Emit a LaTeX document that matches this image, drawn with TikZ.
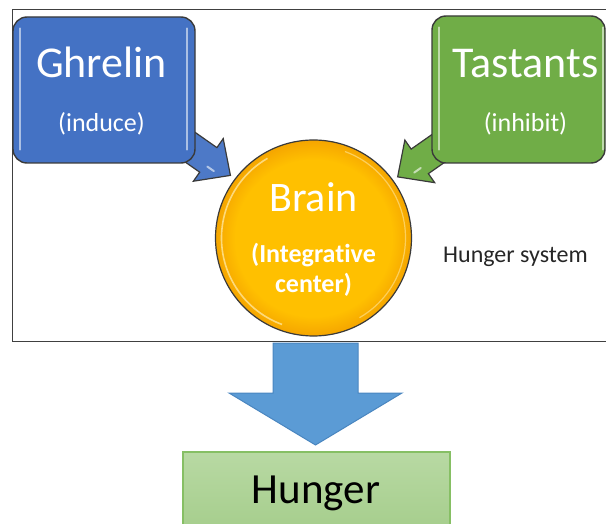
\documentclass[tikz,border=0pt]{standalone}
\usepackage{fontspec}
\setmainfont{Carlito}[Ligatures=NoCommon]
\usetikzlibrary{calc}
\definecolor{boxblue}{HTML}{4472C4}
\definecolor{boxgreen}{HTML}{70AD47}
\definecolor{brainyellow}{HTML}{FFC000}
\definecolor{brainedge}{HTML}{F5A500}
\definecolor{arrowblue}{HTML}{5B9BD5}
\definecolor{arrowblueedge}{HTML}{4A86C0}
\definecolor{hungtop}{HTML}{B8D9A3}
\definecolor{hungbot}{HTML}{A3CC89}
\definecolor{hungedge}{HTML}{86BF64}
\definecolor{darkline}{HTML}{3A3A3A}
\definecolor{framegray}{HTML}{404040}
\pgfdeclareradialshading{brainshade}{\pgfpoint{0bp}{0bp}}{color(0bp)=(brainyellow); color(20bp)=(brainyellow); color(25bp)=(brainedge); color(50bp)=(brainedge)}
\begin{document}
\begin{tikzpicture}[x=1pt,y=-1pt,
  frame/.style={draw=framegray, line width=1pt},
  gbox/.style={draw=darkline, line width=1.4pt, rounded corners=14pt, inner sep=0pt},
  hlblue/.style={draw=white!55!boxblue, line width=2pt, line cap=round},
  hlgreen/.style={draw=white!55!boxgreen, line width=2pt, line cap=round},
  blockarrow/.style={draw=darkline, line width=1.2pt, line join=miter},
  bigtext/.style={text=white, font=\fontsize{44}{44}\selectfont, inner sep=0pt, anchor=base},
  subtext/.style={text=white, font=\fontsize{26}{26}\selectfont, inner sep=0pt, anchor=base},
  boldsub/.style={text=white, font=\fontsize{26}{26}\selectfont\bfseries, inner sep=0pt, anchor=base}
]
\useasboundingbox (0,0) rectangle (606,524);
% outer frame
\draw[frame] (12,10) rectangle (612,341);
% brain circle
\node[circle, minimum size=196pt, inner sep=0pt, draw=darkline, line width=1.2pt,
      shading=brainshade] (brain) at (313.5,238) {};
\draw[white!60!brainyellow, line width=1.6pt, opacity=0.8] (brain.center) ++(120:92pt) arc (120:250:92pt);
\draw[white!60!brainyellow, line width=1.2pt, opacity=0.6] (brain.center) ++(-60:92pt) arc (-60:70:92pt);
% block arrows from boxes to brain
\begin{scope}[shift={($(brain.center)!1.055!(brain.143.85)$)}, rotate=-35]
  \draw[blockarrow, fill=boxblue!95!white] (0,0) -- (-27,26) -- (-27,15) -- (-75,15) -- (-75,-15) -- (-27,-15) -- (-27,-26) -- cycle;
  \draw[white!60!boxblue, line width=2pt, line cap=round] (-24,6) -- (-16,6);
\end{scope}
\begin{scope}[shift={($(brain.center)!1.055!(brain.36.15)$)}, rotate=-145]
  \draw[blockarrow, fill=boxgreen] (0,0) -- (-27,26) -- (-27,15) -- (-75,15) -- (-75,-15) -- (-27,-15) -- (-27,-26) -- cycle;
  \draw[white!60!boxgreen, line width=2pt, line cap=round] (-24,-6) -- (-16,-6);
\end{scope}
% boxes
\node[gbox, fill=boxblue, minimum width=182pt, minimum height=146pt] (ghrelin) at (104,90) {};
\draw[hlblue] ($(ghrelin.north west)+(8,12)$) -- ($(ghrelin.south west)+(8,-14)$);
\draw[hlblue] ($(ghrelin.north east)+(-9,12)$) -- ($(ghrelin.south east)+(-9,-14)$);
\node[gbox, fill=boxgreen, minimum width=173pt, minimum height=147pt] (tastants) at (518.5,89.5) {};
\draw[hlgreen] ($(tastants.north west)+(8,12)$) -- ($(tastants.south west)+(8,-14)$);
\draw[hlgreen] ($(tastants.north east)+(-3,12)$) -- ($(tastants.south east)+(-3,-14)$);
% texts in boxes
\node[bigtext] (ghrelinlabel) at (101.5,78) {Ghrelin};
\node[subtext] (inducelabel) at (101.5,132) {(induce)};
\node[bigtext] (tastantslabel) at (525.5,78) {Tastants};
\node[subtext] (inhibitlabel) at (525.5,132) {(inhibit)};
\node[text=white, font=\fontsize{42}{42}\selectfont, inner sep=0pt, anchor=base] (brainlabel) at (313.5,212) {Brain};
\node[boldsub] (integlabel) at (313.5,263) {(Integrative};
\node[boldsub] (centerlabel) at (313.5,293) {center)};
\node[text=black!85, font=\fontsize{24}{24}\selectfont, inner sep=0pt, anchor=base west] (systemlabel) at (443,263) {Hunger system};
% down arrow
\draw[draw=arrowblueedge, line width=1pt, fill=arrowblue] (273,343) -- (358,343) -- (358,393) -- (402,393) -- (315.5,445) -- (229,393) -- (273,393) -- cycle;
% hunger box
\node[draw=hungedge, line width=1.2pt, top color=hungtop, bottom color=hungbot, minimum width=267pt, minimum height=90pt, inner sep=0pt] (hunger) at (316.5,497) {};
\node[text=black, font=\fontsize{43}{43}\selectfont, inner sep=0pt, anchor=base] (hungerlabel) at (316,503) {Hunger};
\end{tikzpicture}
\end{document}
